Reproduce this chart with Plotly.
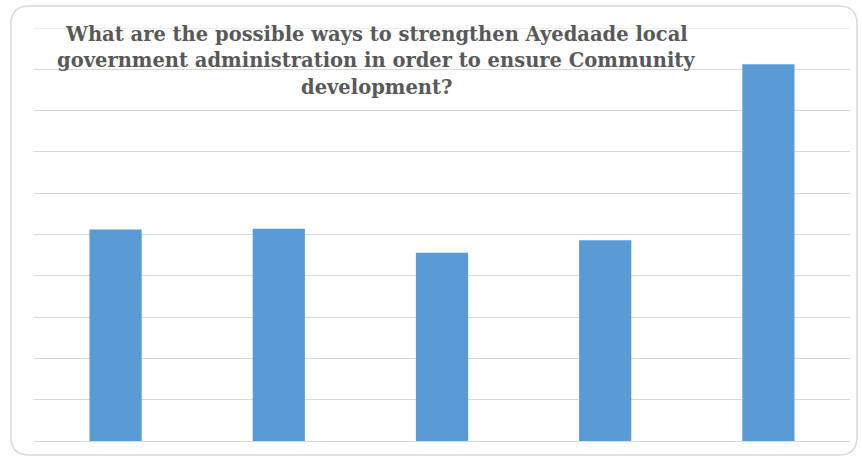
import plotly.graph_objects as go

categories = ["Option 1", "Option 2", "Option 3", "Option 4", "Option 5"]
values = [25.6, 25.7, 22.8, 24.3, 45.6]
title_lines = [
    "What are the possible ways to strengthen Ayedaade local",
    "government administration in order to ensure Community",
    "development?",
]

W, H = 862, 457
L, R, T, B = 34, 12, 28, 16
pw, ph = W - L - R, H - T - B
y_max = 50

def px_x(x):
    return (x - L) / pw

def px_y(y):
    return 1 - (y - T) / ph

fig = go.Figure(go.Bar(x=categories, y=values, marker=dict(color="#5b9bd5", line=dict(width=0))))

x0, x1, y0, y1, r = 11, 857, 6, 455, 18
path = (f"M {px_x(x0+r)} {px_y(y0)} L {px_x(x1-r)} {px_y(y0)} "
        f"Q {px_x(x1)} {px_y(y0)} {px_x(x1)} {px_y(y0+r)} "
        f"L {px_x(x1)} {px_y(y1-r)} Q {px_x(x1)} {px_y(y1)} {px_x(x1-r)} {px_y(y1)} "
        f"L {px_x(x0+r)} {px_y(y1)} Q {px_x(x0)} {px_y(y1)} {px_x(x0)} {px_y(y1-r)} "
        f"L {px_x(x0)} {px_y(y0+r)} Q {px_x(x0)} {px_y(y0)} {px_x(x0+r)} {px_y(y0)} Z")

line_centers = [34, 61, 88]
annotations = [
    dict(text="<b>" + t + "</b>", xref="paper", yref="paper",
         x=px_x(376), y=px_y(c), xanchor="center", yanchor="middle",
         showarrow=False, align="center",
         font=dict(family="DejaVu Serif", size=19.5, color="#595959"))
    for t, c in zip(title_lines, line_centers)
]

fig.update_layout(
    width=W, height=H,
    margin=dict(l=L, r=R, t=T, b=B),
    paper_bgcolor="white", plot_bgcolor="white",
    bargap=0.68,
    showlegend=False,
    xaxis=dict(showticklabels=False, showgrid=False, zeroline=False, showline=False, ticks=""),
    yaxis=dict(range=[0, y_max], dtick=5, showticklabels=False, showgrid=True,
               gridcolor="#d9d9d9", gridwidth=1, zeroline=True, zerolinecolor="#d9d9d9",
               zerolinewidth=1, showline=False, ticks=""),
    shapes=[
        dict(type="line", xref="paper", yref="y", x0=0, x1=1, y0=y_max, y1=y_max,
             line=dict(color="#d9d9d9", width=1), layer="below"),
        dict(type="path", xref="paper", yref="paper", path=path,
             line=dict(color="#d9d9d9", width=1.5), layer="above"),
    ],
    annotations=annotations,
)

fig.write_html("out.html")
